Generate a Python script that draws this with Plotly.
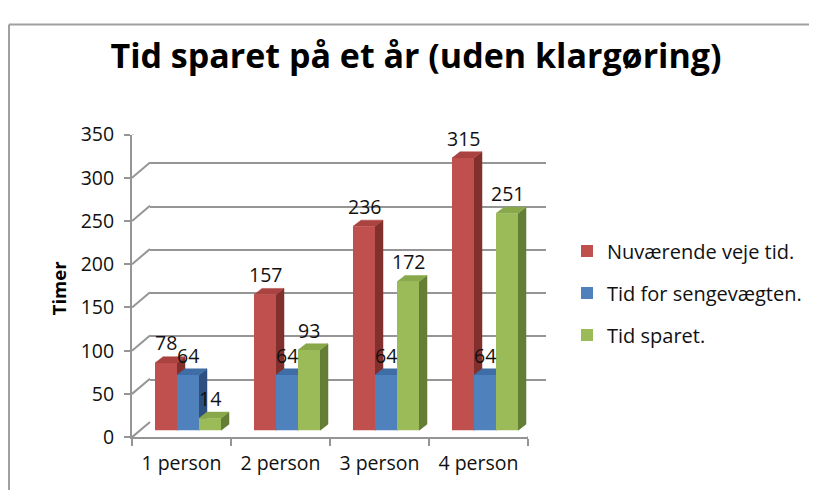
import plotly.graph_objects as go

# ---------------- data ----------------
categories = ["1 person", "2 person", "3 person", "4 person"]
nuvaerende = [78, 157, 236, 315]
sengevaegt = [64, 64, 64, 64]
sparet = [14, 93, 172, 251]
series_names = ["Nuværende veje tid.", "Tid for sengevægten.", "Tid sparet."]
y_ticks = [0, 50, 100, 150, 200, 250, 300, 350]
title_text = "Tid sparet på et år (uden klargøring)"
y_title = "Timer"

# ---------------- style / layout ----------------
W, H = 817, 495
FONT = "Open Sans"
SY = 503 / 495               # vertical page->photo scaling (measured)


def sx(p):                   # target photo x pixel -> figure x pixel
    return p - 8


def sy(p):                   # target photo y pixel -> figure y pixel
    return p * SY - 8


# front plane (photo pixels -> figure pixels)
FX0, FX1, FY0, FY1 = sx(132), sx(528), sy(440), sy(125)
YMAX = 350
BACK_DX, BACK_DY = 18, 15 * SY     # back wall offset (px)
BAR_DX, BAR_DY = 6.5, 7 * SY       # bar front-face plane offset (px)
DEP_X, DEP_Y = 8, 6.5 * SY         # bar depth (px)
GRID = "#959595"
TXT = "#111111"

front_col = ["#C0504D", "#4F81BD", "#9BBB59"]
side_col = ["#82302D", "#2E5080", "#647E35"]
top_col = ["#AA423F", "#3F6DA6", "#88A84A"]

series = [nuvaerende, sengevaegt, sparet]
ncat = len(categories)
bargap = 1 / 3
bw = (1 - bargap) / len(series)


def dx(a, b):
    return [a / W, b / W]


def dy(bottom, top):
    return [1 - bottom / H, 1 - top / H]


ux = ncat / (FX1 - FX0)      # category units per pixel
uy = YMAX / (FY0 - FY1)      # value units per pixel

fig = go.Figure()

# invisible trace so the back-wall subplot (gridlines) is created first
fig.add_trace(go.Scatter(x=[0], y=[0], xaxis="x2", yaxis="y2", mode="markers",
                         marker=dict(opacity=0), showlegend=False, hoverinfo="skip"))

# depth faces (side + top) on subplot x3/y3, below the bar fronts
for j, vals in enumerate(series):
    sxs, sys_, txs, tys = [], [], [], []
    for i, v in enumerate(vals):
        left = i - (1 - bargap) / 2 + j * bw
        right = left + bw
        ddx, ddy = DEP_X * ux, DEP_Y * uy
        sxs += [right, right + ddx, right + ddx, right, right, None]
        sys_ += [0, ddy, v + ddy, v, 0, None]
        txs += [left, left + ddx, right + ddx, right, left, None]
        tys += [v, v + ddy, v + ddy, v, v, None]
    fig.add_trace(go.Scatter(x=sxs, y=sys_, xaxis="x3", yaxis="y3", mode="lines",
                             fill="toself", fillcolor=side_col[j],
                             line=dict(width=0.5, color=side_col[j]),
                             showlegend=False, hoverinfo="skip"))
    fig.add_trace(go.Scatter(x=txs, y=tys, xaxis="x3", yaxis="y3", mode="lines",
                             fill="toself", fillcolor=top_col[j],
                             line=dict(width=0.5, color=top_col[j]),
                             showlegend=False, hoverinfo="skip"))

# bar front faces on subplot x4/y4
for j, vals in enumerate(series):
    fig.add_trace(go.Bar(x=categories, y=vals, name=series_names[j],
                         xaxis="x4", yaxis="y4",
                         marker=dict(color=front_col[j], line=dict(width=0)),
                         legendgroup=f"g{j}"))

# value labels
annotations = []
for j, vals in enumerate(series):
    for i, v in enumerate(vals):
        annotations.append(dict(
            x=i - (1 - bargap) / 2 + (j + 0.5) * bw, y=v, xref="x4", yref="y4",
            text=str(v), showarrow=False, yshift=20, xanchor="center", yanchor="middle",
            font=dict(family=FONT, size=19.5, color=TXT)))

annotations.append(dict(x=sx(58) / W, y=1 - sy(285) / H, xref="paper", yref="paper",
                        xanchor="center", yanchor="middle",
                        text=f"<b>{y_title}</b>", textangle=-90, showarrow=False,
                        font=dict(family=FONT, size=18.5, color="#000000")))

shapes = [
    dict(type="line", xref="paper", yref="paper", x0=sx(9) / W, x1=1,
         y0=1 - sy(10.5) / H, y1=1 - sy(10.5) / H,
         line=dict(color="#a0a0a0", width=2)),
    dict(type="line", xref="paper", yref="paper", x0=sx(9) / W, x1=sx(9) / W,
         y0=0, y1=1 - sy(10.5) / H,
         line=dict(color="#a0a0a0", width=2)),
]
# diagonal connectors from front axes to back wall
for v in y_ticks:
    shapes.append(dict(type="line", xref="x", yref="y", xsizemode="pixel", ysizemode="pixel",
                       xanchor=-0.5, yanchor=v, x0=0, x1=BACK_DX, y0=0, y1=BACK_DY,
                       line=dict(color=GRID, width=2), layer="below"))
shapes.append(dict(type="line", xref="x", yref="y", xsizemode="pixel", ysizemode="pixel",
                   xanchor=ncat - 0.5, yanchor=0, x0=0, x1=BACK_DX, y0=0, y1=BACK_DY,
                   line=dict(color=GRID, width=2), layer="below"))

hidden = dict(visible=False)
fig.update_layout(
    width=W, height=H, margin=dict(l=0, r=0, t=0, b=0),
    paper_bgcolor="white", plot_bgcolor="rgba(0,0,0,0)",
    font=dict(family=FONT, size=19.5, color=TXT),
    title=dict(text=f"<b>{title_text}</b>", x=sx(416) / W, y=1 - sy(55) / H,
               xanchor="center", yanchor="middle",
               font=dict(family=FONT, size=34, color="#000000")),
    barmode="group", bargap=bargap, bargroupgap=0,
    showlegend=True,
    legend=dict(x=sx(567) / W, y=1 - sy(226) / H, xanchor="left", yanchor="top",
                font=dict(family=FONT, size=20, color=TXT),
                traceorder="grouped", tracegroupgap=13, bgcolor="rgba(0,0,0,0)"),
    xaxis=dict(domain=dx(FX0, FX1), anchor="y", type="category",
               categoryorder="array", categoryarray=categories,
               range=[-0.5, ncat - 0.5], showline=True, linecolor=GRID, linewidth=2,
               ticks="outside", tickson="boundaries", ticklen=7, tickcolor=GRID, tickwidth=2,
               ticklabelstandoff=7,
               showgrid=False, tickfont=dict(family=FONT, size=19.5, color=TXT)),
    yaxis=dict(domain=dy(FY0, FY1), anchor="x", range=[0, YMAX], tickvals=y_ticks,
               showline=True, linecolor=GRID, linewidth=2, ticks="outside", ticklen=6,
               tickcolor=GRID, tickwidth=2, showgrid=False, zeroline=False,
               ticklabelstandoff=6,
               tickfont=dict(family=FONT, size=19.5, color=TXT)),
    xaxis2=dict(domain=dx(FX0 + BACK_DX, FX1 + BACK_DX), anchor="y2", range=[-0.5, ncat - 0.5],
                showgrid=False, showticklabels=False, ticks="", zeroline=False, showline=False),
    yaxis2=dict(domain=dy(FY0 - BACK_DY, FY1 - BACK_DY), anchor="x2", range=[0, YMAX],
                tickvals=y_ticks, showgrid=True, gridcolor=GRID, gridwidth=2,
                showticklabels=False, ticks="", zeroline=False, showline=False),
    xaxis3=dict(domain=dx(FX0 + BAR_DX, FX1 + BAR_DX), anchor="y3", range=[-0.5, ncat - 0.5],
                **hidden),
    yaxis3=dict(domain=dy(FY0 - BAR_DY, FY1 - BAR_DY), anchor="x3", range=[0, YMAX], **hidden),
    xaxis4=dict(domain=dx(FX0 + BAR_DX, FX1 + BAR_DX), anchor="y4", type="category",
                categoryorder="array", categoryarray=categories,
                range=[-0.5, ncat - 0.5], **hidden),
    yaxis4=dict(domain=dy(FY0 - BAR_DY, FY1 - BAR_DY), anchor="x4", range=[0, YMAX], **hidden),
    annotations=annotations, shapes=shapes,
)

fig.write_html("out.html")
